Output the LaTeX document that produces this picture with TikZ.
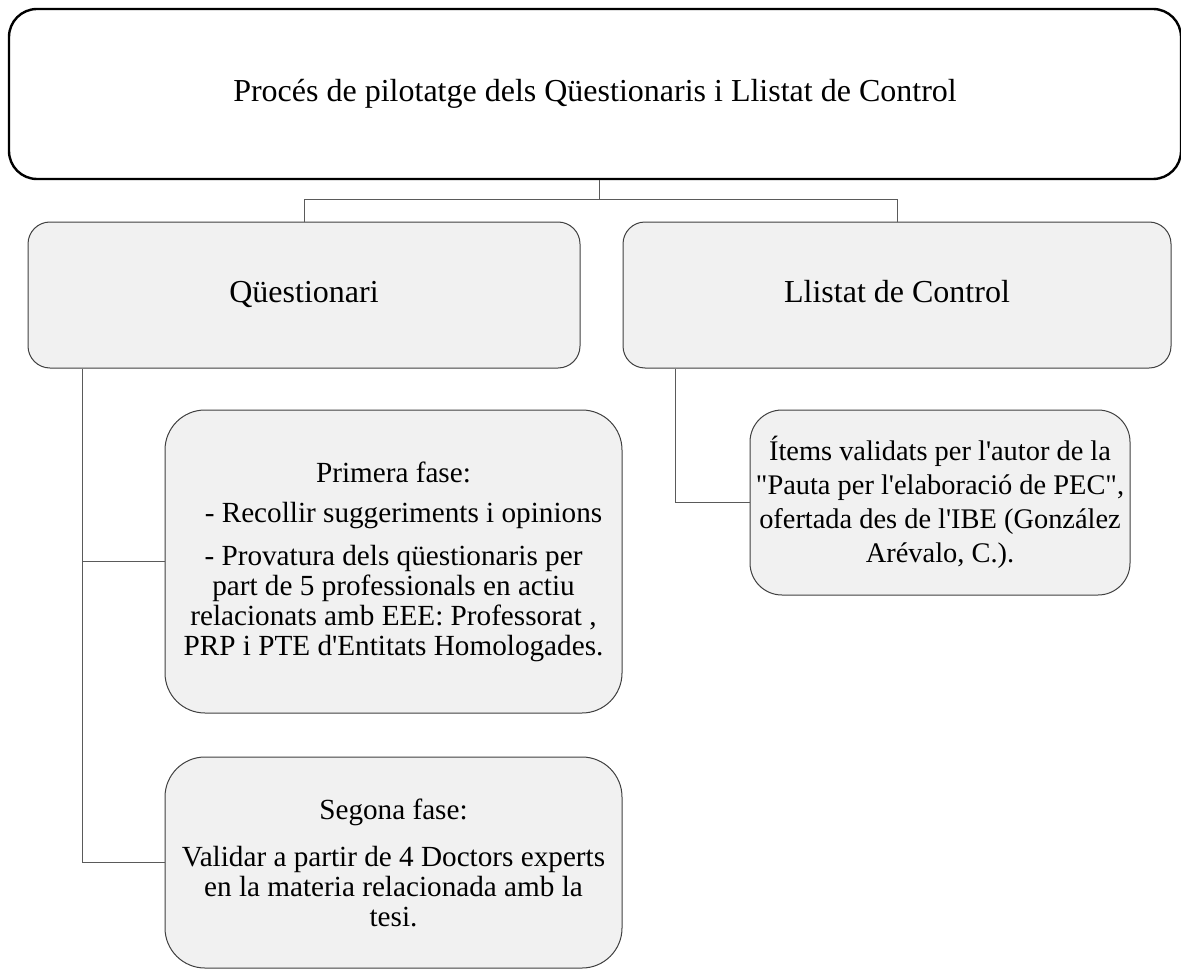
\documentclass[tikz,border=0pt]{standalone}
\usepackage{fontspec}
\setmainfont{Liberation Serif}[Ligatures=TeXOff]
\usetikzlibrary{positioning}
\definecolor{boxfill}{HTML}{F1F1F1}
\definecolor{boxline}{HTML}{404040}
\definecolor{linkline}{HTML}{5A5A5A}

\begin{document}
\begin{tikzpicture}[
    x=0.5pt, y=-0.5pt,
    title/.style={rectangle, draw=black, line width=1.2pt, rounded corners=14pt, minimum width=586pt, minimum height=85pt, align=center, font=\fontsize{16}{18}\selectfont},
    box/.style={rectangle, draw=boxline, fill=boxfill, line width=0.5pt, align=center, font=\fontsize{14.6}{15}\selectfont},
    branch/.style={box, rounded corners=11pt, minimum height=73pt, text height=0.95em, text depth=0.25em, font=\fontsize{16}{18}\selectfont},
    link/.style={draw=linkline, line width=0.5pt},
    ]
    \useasboundingbox (0,0) rectangle (1181,968);

    % Nodes
    \node[title] (proces) at (595,94) {Procés de pilotatge dels Qüestionaris i Llistat de Control};
    \node[branch, minimum width=276pt] (questionari) at (304,295) {Qüestionari};
    \node[branch, minimum width=274pt] (llistat) at (897,295) {Llistat de Control};
    \node[box, rounded corners=20pt, minimum width=228.5pt, minimum height=151.5pt] (fase1) at (393.5,561.5) {Primera fase:\\[5pt]
        \hspace{10pt}- Recollir suggeriments i opinions\\[6.5pt]
        - Provatura dels qüestionaris per\\
        part de 5 professionals en actiu\\
        relacionats amb EEE: Professorat ,\\
        PRP i PTE d'Entitats Homologades.};
    \node[box, rounded corners=20pt, minimum width=228.5pt, minimum height=105.5pt] (fase2) at (393.5,862.5) {Segona fase:\\[8.5pt]
        Validar a partir de 4 Doctors experts\\
        en la materia relacionada amb la\\
        tesi.};
    \node[box, rounded corners=16pt, minimum width=190pt, minimum height=92.5pt, inner sep=1pt, font=\fontsize{14.2}{17}\selectfont] (items) at (940,502.5) {Ítems validats per l'autor de la\\
        "Pauta per l'elaboració de PEC",\\
        ofertada des de l'IBE (González\\
        Arévalo, C.).};

    % Edges
    \draw[link] (proces.south -| 599,0) -- (599,200) coordinate (split);
    \draw[link] (split) -| (questionari.north);
    \draw[link] (split) -| (llistat.north);
    \draw[link] (questionari.south west) ++(55,0) coordinate (qdrop) |- (fase2.west);
    \draw[link] (qdrop |- fase1.west) -- (fase1.west);
    \draw[link] (llistat.south west) ++(53,0) |- (items.west);
\end{tikzpicture}
\end{document}
